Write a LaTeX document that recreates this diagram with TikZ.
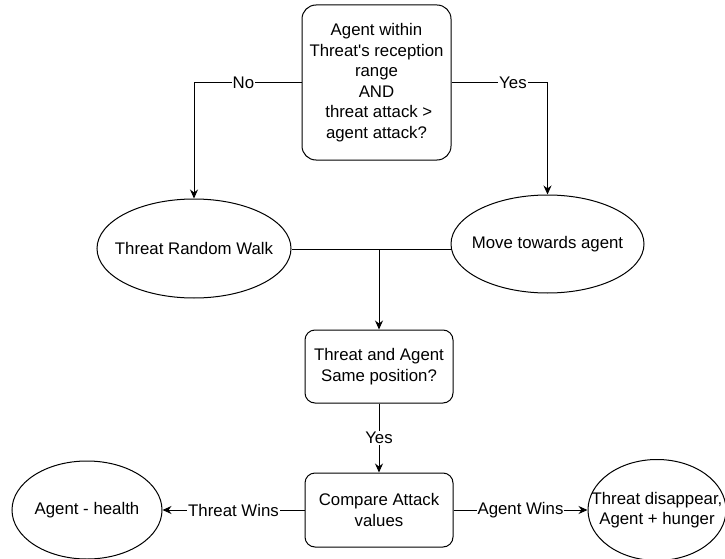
\documentclass[tikz,border=0pt]{standalone}
\usepackage{fontspec}
\setmainfont{Liberation Sans}[Ligatures=TeXOff]
\usetikzlibrary{shapes.geometric,arrows.meta}
\begin{document}
\begin{tikzpicture}[x=1pt,y=-1pt,
  every node/.style={font=\fontsize{16.8}{20.5}\selectfont},
  box/.style={draw, line width=1pt, rounded corners=10pt, align=center, inner sep=0pt},
  ell/.style={draw, line width=1pt, ellipse, inner sep=0pt},
  conn/.style={line width=1pt},
  arr/.style={conn, -{Stealth[length=9pt,width=8pt]}},
  lbl/.style={fill=white, inner sep=1pt}]
\useasboundingbox (0,0) rectangle (725,559);
\clip (0,0) rectangle (725,559);

\node[box, rounded corners=14pt, minimum width=149pt, minimum height=155pt] (top) at (376.5,82.5)
  {Agent within\\Threat's reception\\range\\AND\\\ threat attack >\\agent attack?};
\node[ell, minimum width=194pt, minimum height=99pt, label={center:Threat Random Walk}] (trw) at (194,248.5) {};
\node[ell, minimum width=193pt, minimum height=98pt, label={center:Move towards agent}] (mta) at (547.5,244) {};
\node[box, minimum width=148pt, minimum height=73pt] (same) at (379,366.5) {Threat and Agent\\Same position?};
\node[box, minimum width=148pt, minimum height=74pt] (cmp) at (379,510) {Compare Attack\\values};
\node[ell, minimum width=150pt, minimum height=98pt, label={center:Agent - health}] (health) at (87,510) {};
\node[ell, minimum width=138pt, minimum height=101pt, label={[align=center]center:{Threat disappear,\\Agent + hunger}}] (dis) at (657,510) {};

\coordinate (j) at (379,249);

\draw[arr] (top.west) -| node[lbl, pos=0.27] {No} (trw.north);
\draw[arr] (top.east) -| node[lbl, pos=0.32] {Yes} (mta.north);
\draw[conn] (trw.east |- j) -- (j);
\draw[conn] (mta.west |- j) -- (j);
\draw[arr] (j) -- (same.north);
\draw[arr] (same.south) -- node[lbl] {Yes} (cmp.north);
\draw[arr] (cmp.west) -- node[lbl] {Threat Wins} (health.east);
\draw[arr] (cmp.east) -- node[lbl] {Agent Wins} (dis.west);
\end{tikzpicture}
\end{document}
